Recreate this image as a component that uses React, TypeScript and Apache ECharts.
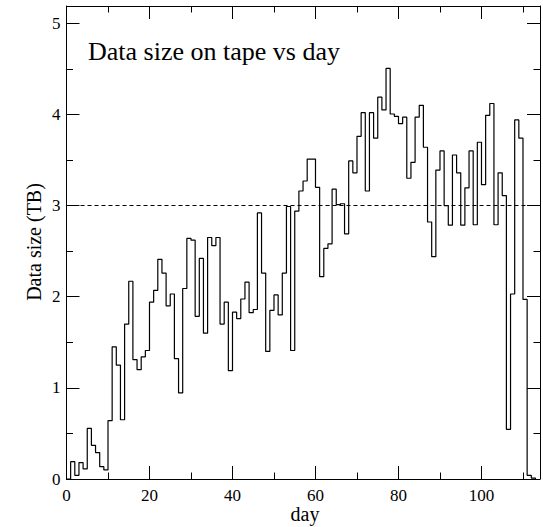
import React, { useEffect, useRef } from "react";
import * as echarts from "echarts";

// Daily data size on tape (TB), one value per day starting at day 0
const dataSizeTB: number[] = [
  0, 0.19, 0.04, 0.18, 0.11, 0.555, 0.37, 0.29, 0.135, 0.1,
  0.64, 1.45, 1.25, 0.65, 1.7, 2.17, 1.31, 1.2, 1.34, 1.41,
  1.94, 2.07, 2.41, 2.26, 1.9, 2.03, 1.32, 0.945, 2.09, 2.64,
  2.62, 1.785, 2.42, 1.6, 2.65, 2.56, 2.65, 1.7, 1.94, 1.19,
  1.83, 1.76, 1.975, 2.16, 1.825, 1.86, 2.92, 2.26, 1.4, 1.85,
  2.02, 1.8, 2.26, 2.99, 1.41, 2.94, 3.16, 3.27, 3.51, 3.51,
  3.2, 2.22, 2.53, 2.58, 3.18, 3.01, 3.02, 2.69, 3.49, 3.36,
  3.76, 4.02, 3.16, 4.02, 3.74, 4.19, 4.05, 4.505, 4.005, 3.98,
  3.9, 3.97, 3.3, 3.475, 3.97, 4.1, 3.64, 2.82, 2.44, 3.39,
  3.6, 3.0, 2.785, 3.555, 3.36, 2.785, 3.195, 3.6, 2.79, 3.695,
  3.23, 3.99, 4.12, 2.79, 3.36, 3.11, 0.545, 2.03, 3.94, 3.74,
  1.97, 0.04, 0.01,
];
const referenceLevel = 3;
const xMajorTicks = [0, 20, 40, 60, 80, 100];
const yMajorTicks = [0, 1, 2, 3, 4, 5];
const xMax = 114.1;
const yMax = 5.19;

const FONT = "'Liberation Serif', 'DejaVu Serif', serif";

export default function App() {
  const ref = useRef<HTMLDivElement>(null);

  useEffect(() => {
    if (!ref.current) return;
    const chart = echarts.init(ref.current, undefined, { renderer: "svg" });

    const stepData: [number, number][] = dataSizeTB.map((v, i) => [i, v]);
    stepData.push([dataSizeTB.length, 0]);

    const lineStyle = { color: "#000", width: 1 };
    const mkX = (position: "top" | "bottom", interval: number, len: number, labels: boolean, line: boolean) => ({
      type: "value",
      position,
      min: 0,
      max: xMax,
      interval,
      splitLine: { show: false },
      axisLine: { show: line, onZero: false, lineStyle },
      axisTick: { show: true, inside: true, length: len, lineStyle },
      axisLabel: labels
        ? {
            show: true,
            color: "#000",
            fontFamily: FONT,
            fontSize: 17,
            margin: 8,
            formatter: (v: number) => (xMajorTicks.includes(v) ? String(v) : ""),
          }
        : { show: false },
    });
    const mkY = (position: "left" | "right", interval: number, len: number, labels: boolean, line: boolean) => ({
      type: "value",
      position,
      min: 0,
      max: yMax,
      interval,
      splitLine: { show: false },
      axisLine: { show: line, onZero: false, lineStyle },
      axisTick: { show: true, inside: true, length: len, lineStyle },
      axisLabel: labels
        ? {
            show: true,
            color: "#000",
            fontFamily: FONT,
            fontSize: 17,
            margin: 6,
            formatter: (v: number) => (yMajorTicks.includes(v) ? String(v) : ""),
          }
        : { show: false },
    });

    chart.setOption({
      animation: false,
      backgroundColor: "#fff",
      grid: { left: 66.5, top: 6, right: -0.5, bottom: 48, containLabel: false },
      xAxis: [
        mkX("bottom", 20, 13, true, true),
        mkX("bottom", 10, 6.5, false, false),
        mkX("top", 20, 13, false, true),
        mkX("top", 10, 6.5, false, false),
      ],
      yAxis: [
        mkY("left", 1, 13, true, true),
        mkY("left", 0.5, 6.5, false, false),
        mkY("right", 1, 13, false, true),
        mkY("right", 0.5, 6.5, false, false),
      ],
      series: [
        {
          type: "line",
          step: "end",
          xAxisIndex: 0,
          yAxisIndex: 0,
          data: stepData,
          symbol: "none",
          lineStyle: { color: "#000", width: 1.2 },
          markLine: {
            silent: true,
            symbol: "none",
            label: { show: false },
            lineStyle: { color: "#000", width: 1, type: [4, 3] },
            data: [{ yAxis: referenceLevel }],
          },
        },
      ],
      graphic: [
        {
          type: "text",
          x: 88,
          y: 51,
          style: {
            text: "Data size on tape vs day",
            fontFamily: FONT,
            fontSize: 26,
            fill: "#000",
            align: "left",
            verticalAlign: "middle",
          },
        },
        {
          type: "text",
          x: 305,
          y: 514,
          style: {
            text: "day",
            fontFamily: FONT,
            fontSize: 20,
            fill: "#000",
            align: "center",
            verticalAlign: "middle",
          },
        },
        {
          type: "text",
          x: 34,
          y: 242,
          rotation: Math.PI / 2,
          style: {
            text: "Data size (TB)",
            fontFamily: FONT,
            fontSize: 20,
            fill: "#000",
            align: "center",
            verticalAlign: "middle",
          },
        },
      ],
    });

    return () => chart.dispose();
  }, []);

  return (
    <div
      ref={ref}
      style={{ position: "fixed", left: 0, top: 0, width: 543, height: 527 }}
    />
  );
}
